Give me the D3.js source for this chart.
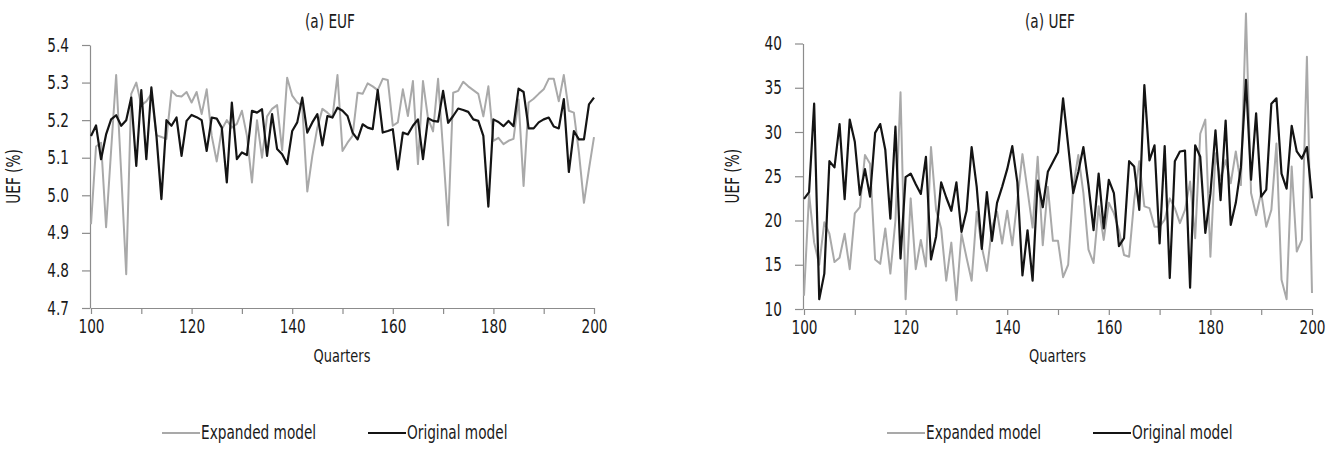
<!DOCTYPE html>
<html>
<head>
<meta charset="utf-8">
<script src="https://cdn.jsdelivr.net/npm/d3@7"></script>
<style>
  body { margin: 0; background: #fff; }
  svg text { font-family: "Liberation Sans Narrow", "DejaVu Sans Condensed", "DejaVu Sans", sans-serif; fill: #1a1a1a; }
</style>
</head>
<body>
<script>
// Categories: quarters 100..200
const quarters = d3.range(100, 201);
const xLabelTicks = [100, 120, 140, 160, 180, 200];
const xTicks = [100, 110, 120, 130, 140, 150, 160, 170, 180, 190, 200];
const eufTicks = [4.7, 4.8, 4.9, 5.0, 5.1, 5.2, 5.3, 5.4];
const uefTicks = [10, 15, 20, 25, 30, 35, 40];
const seriesNames = ['Expanded model', 'Original model'];

// Panel 1 – EUF
const eufExpanded = [
  4.923, 5.13, 5.14, 4.915, 5.12, 5.32, 5.06, 4.79, 5.27, 5.30,
  5.24, 5.25, 5.27, 5.16, 5.155, 5.15, 5.278, 5.265, 5.263, 5.275,
  5.247, 5.275, 5.216, 5.282, 5.158, 5.09, 5.176, 5.20, 5.18, 5.19,
  5.225, 5.158, 5.034, 5.20, 5.10, 5.21, 5.23, 5.24, 5.12, 5.313,
  5.265, 5.247, 5.238, 5.01, 5.105, 5.18, 5.23, 5.22, 5.207, 5.32,
  5.118, 5.14, 5.158, 5.273, 5.27, 5.298, 5.29, 5.28, 5.31, 5.307,
  5.185, 5.194, 5.282, 5.211, 5.304, 5.083, 5.304, 5.205, 5.17, 5.31,
  5.12, 4.92, 5.273, 5.278, 5.302, 5.29, 5.28, 5.27, 5.21, 5.29,
  5.145, 5.153, 5.136, 5.145, 5.15, 5.255, 5.025, 5.247, 5.257, 5.27,
  5.282, 5.31, 5.31, 5.25, 5.32, 5.225, 5.22, 5.114, 4.98, 5.07,
  5.155
];
const eufOriginal = [
  5.158, 5.186, 5.096, 5.162, 5.202, 5.213, 5.185, 5.200, 5.260, 5.078,
  5.280, 5.096, 5.287, 5.160, 4.990, 5.200, 5.185, 5.207, 5.105, 5.198,
  5.214, 5.208, 5.200, 5.118, 5.207, 5.204, 5.180, 5.034, 5.247, 5.096,
  5.114, 5.107, 5.225, 5.220, 5.229, 5.105, 5.216, 5.123, 5.109, 5.083,
  5.171, 5.194, 5.260, 5.167, 5.194, 5.216, 5.133, 5.211, 5.207, 5.233,
  5.225, 5.211, 5.167, 5.149, 5.189, 5.180, 5.176, 5.280, 5.167, 5.171,
  5.176, 5.069, 5.167, 5.162, 5.185, 5.202, 5.096, 5.205, 5.198, 5.196,
  5.278, 5.193, 5.211, 5.231, 5.227, 5.222, 5.202, 5.198, 5.158, 4.970,
  5.202, 5.195, 5.184, 5.198, 5.184, 5.284, 5.275, 5.178, 5.178, 5.194,
  5.202, 5.207, 5.183, 5.178, 5.256, 5.062, 5.171, 5.149, 5.149, 5.242,
  5.260
];

// Panel 2 – UEF
const uefExpanded = [
  11.5, 23.0, 17.5, 15.0, 19.8, 18.5, 15.3, 15.8, 18.5, 14.5,
  20.8, 21.5, 27.4, 26.4, 15.6, 15.1, 19.1, 14.0, 20.0, 34.5,
  11.1, 22.5, 14.5, 17.8, 14.8, 28.3, 21.2, 19.1, 13.2, 17.5,
  11.0, 18.5, 15.8, 13.2, 21.0, 17.0, 14.3, 19.2, 21.0, 17.4,
  21.1, 17.2, 22.3, 27.5, 23.4, 19.2, 27.2, 17.2, 23.8, 17.7,
  17.7, 13.6, 15.0, 23.8, 27.4, 23.1, 16.7, 15.2, 21.6, 17.8,
  22.0, 20.8, 18.9, 16.1, 15.9, 22.3, 26.7, 21.6, 21.4, 19.3,
  19.3, 20.1, 22.5, 21.4, 19.7, 21.2, 24.4, 18.0, 29.8, 31.4,
  15.9, 27.6, 24.6, 26.8, 24.2, 27.8, 24.0, 43.4, 23.1, 20.6,
  23.1, 19.3, 21.2, 28.7, 13.3, 11.1, 26.1, 16.5, 17.8, 38.5,
  11.8
];
const uefOriginal = [
  22.45, 23.2, 33.2, 11.1, 14.0, 26.7, 26.0, 30.9, 22.4, 31.4,
  28.9, 22.9, 25.8, 22.7, 29.9, 30.9, 28.0, 20.2, 30.6, 15.7,
  24.9, 25.3, 24.1, 23.0, 27.2, 15.6, 18.2, 24.3, 22.6, 21.1,
  24.3, 18.7, 21.1, 28.3, 23.8, 16.8, 23.2, 17.7, 22.0, 23.8,
  25.8, 28.4, 24.3, 13.8, 18.9, 13.2, 24.5, 21.5, 25.5, 26.6,
  27.7, 33.8, 28.5, 23.1, 25.5, 28.3, 24.0, 18.9, 25.3, 19.1,
  24.6, 23.1, 17.1, 18.0, 26.7, 26.1, 21.2, 35.3, 26.8, 28.5,
  17.4, 28.4, 13.5, 26.7, 27.8, 27.9, 12.4, 28.5, 27.2, 18.6,
  23.0, 30.2, 22.3, 31.3, 19.5, 22.0, 26.0, 35.9, 24.6, 32.1,
  22.7, 23.5, 33.2, 33.8, 25.3, 23.6, 30.7, 27.8, 27.0, 28.3,
  22.5
];

// Canvas
const width = 1335;
const height = 450;
const greyColor = '#a9a9a9';
const blackColor = '#141414';
const axisColor = '#8c8c8c';
const condense = 0.8; // reference type is a narrow face

const svg = d3.select('body')
  .append('svg')
  .attr('width', width)
  .attr('height', height);

// Draw one panel
function drawPanel(p) {
  const x = d3.scaleLinear()
    .domain([100, 200])
    .range([p.left + 1, p.right]);

  const y = d3.scaleLinear()
    .domain(p.domain)
    .range([p.bottom, p.top]);

  const g = svg.append('g');

  // y axis
  const yAxis = g.append('g')
    .attr('transform', `translate(${p.left}, 0)`)
    .call(d3.axisLeft(y)
      .tickValues(p.ticks)
      .tickSize(8)
      .tickSizeOuter(0)
      .tickPadding(13)
      .tickFormat(p.format));

  // x axis
  const xAxis = g.append('g')
    .attr('transform', `translate(0, ${p.bottom})`)
    .call(d3.axisBottom(x)
      .tickValues(xTicks)
      .tickSize(6)
      .tickSizeOuter(0)
      .tickPadding(6)
      .tickFormat(d => xLabelTicks.includes(d) ? d : ''));

  [yAxis, xAxis].forEach(a => {
    a.select('.domain').attr('stroke', axisColor).attr('stroke-width', 1.2);
    a.selectAll('.tick line').attr('stroke', axisColor).attr('stroke-width', 1.2);
    a.selectAll('.tick text')
      .attr('font-size', 19)
      .attr('fill', '#1a1a1a');
  });

  const line = d3.line()
    .x((d, i) => x(quarters[i]))
    .y(d => y(d));

  g.append('path')
    .datum(p.expanded)
    .attr('d', line)
    .attr('fill', 'none')
    .attr('stroke', greyColor)
    .attr('stroke-width', 2)
    .attr('stroke-linejoin', 'round');

  g.append('path')
    .datum(p.original)
    .attr('d', line)
    .attr('fill', 'none')
    .attr('stroke', blackColor)
    .attr('stroke-width', 2.2)
    .attr('stroke-linejoin', 'round');

  // title
  g.append('text')
    .attr('x', p.titleX)
    .attr('y', 28)
    .attr('text-anchor', 'middle')
    .attr('font-size', 19)
    .text(p.title);

  // y label
  g.append('text')
    .attr('transform', `translate(${p.labelX}, ${(p.top + p.bottom) / 2}) rotate(-90)`)
    .attr('text-anchor', 'middle')
    .attr('font-size', 19)
    .text('UEF (%)');

  // x label
  g.append('text')
    .attr('x', (p.left + p.right) / 2)
    .attr('y', 362)
    .attr('text-anchor', 'middle')
    .attr('font-size', 18)
    .text('Quarters');

  // legend
  const legend = g.append('g')
    .attr('transform', `translate(${p.legendX}, 433)`);

  legend.selectAll('.legend-item')
    .data(seriesNames)
    .enter()
    .append('g')
    .attr('class', 'legend-item')
    .attr('transform', (d, i) => `translate(${i * 206}, 0)`)
    .each(function (d, i) {
      d3.select(this)
        .append('line')
        .attr('x1', 0)
        .attr('x2', 38)
        .attr('stroke', i === 0 ? greyColor : blackColor)
        .attr('stroke-width', 2);

      d3.select(this)
        .append('text')
        .attr('x', 39)
        .attr('y', 6)
        .attr('font-size', 19)
        .text(d);
    });
}

drawPanel({
  left: 90, right: 594, top: 45, bottom: 308,
  domain: [4.7, 5.4], ticks: eufTicks, format: d3.format('.1f'),
  title: '(a) EUF', titleX: 330, labelX: 20, legendX: 162,
  expanded: eufExpanded, original: eufOriginal
});

drawPanel({
  left: 803, right: 1312, top: 43.5, bottom: 309,
  domain: [10, 40], ticks: uefTicks, format: d3.format('d'),
  title: '(a) UEF', titleX: 1050, labelX: 739, legendX: 887,
  expanded: uefExpanded, original: uefOriginal
});

// Narrow every label so it matches the condensed face of the reference
svg.selectAll('text').each(function () {
  const len = this.getComputedTextLength();
  if (len > 0) {
    d3.select(this)
      .attr('textLength', len * condense)
      .attr('lengthAdjust', 'spacingAndGlyphs');
  }
});
</script>
</body>
</html>
